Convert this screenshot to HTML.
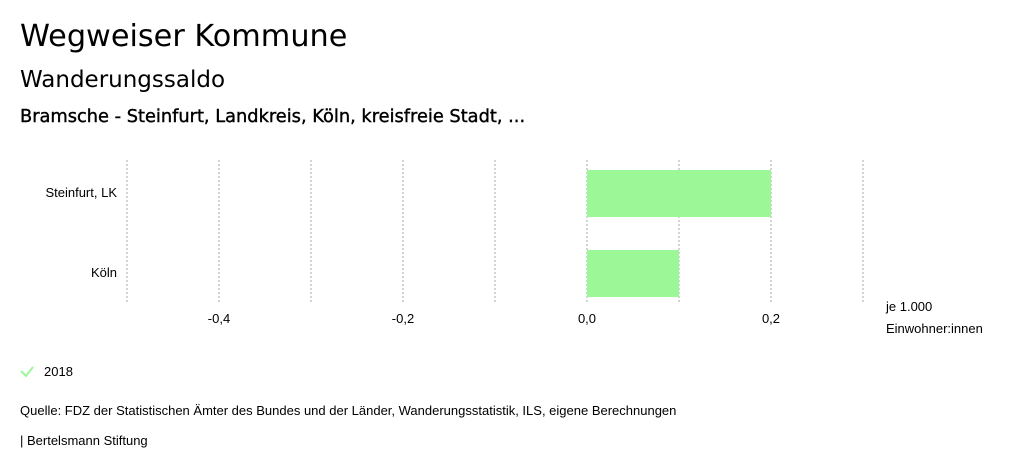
<!DOCTYPE html>
<html><head><meta charset="utf-8"><style>
body{margin:0;width:1024px;height:474px;background:#fff;font-family:"Liberation Sans",sans-serif;color:#000;position:relative;overflow:hidden}
.t{position:absolute;left:20px;white-space:nowrap}
.h{font-family:"DejaVu Sans","Liberation Sans",sans-serif}
</style></head><body>
<div class="t h" style="top:19px;font-size:30.3px">Wegweiser Kommune</div>
<div class="t h" style="top:67px;font-size:23px">Wanderungssaldo</div>
<div class="t h" style="top:106px;font-size:17.8px;-webkit-text-stroke:0.4px #000">Bramsche - Steinfurt, Landkreis, Köln, kreisfreie Stadt, ...</div>
<svg id="chart" width="1024" height="474" style="position:absolute;left:0;top:0"></svg>
<div class="t" style="top:403px;font-size:13px">Quelle: FDZ der Statistischen Ämter des Bundes und der Länder, Wanderungsstatistik, ILS, eigene Berechnungen</div>
<div class="t" style="top:433px;font-size:13px">| Bertelsmann Stiftung</div>
<script>
const categories=["Steinfurt, LK","Köln"];
const values2018=[0.2,0.1];
const ticks=[-0.5,-0.4,-0.3,-0.2,-0.1,0,0.1,0.2,0.3];
const tickLabels=["-0,4","-0,2","0,0","0,2"];
const tickLabelValues=[-0.4,-0.2,0,0.2];
const NS="http://www.w3.org/2000/svg";
const svg=document.getElementById('chart');
const x=v=>587+v*920;
const y=i=>170+i*80;
function mk(t,a){const e=document.createElementNS(NS,t);for(const k in a)e.setAttribute(k,a[k]);svg.appendChild(e);return e;}
ticks.forEach(v=>{const l=mk('line',{x1:x(v),x2:x(v),y1:160,y2:303,stroke:'#aaa','stroke-dasharray':'2,2'});

});
tickLabelValues.forEach((v,i)=>{const t=mk('text',{x:x(v),y:323,'text-anchor':'middle','font-size':13,'font-family':'Liberation Sans'});t.textContent=tickLabels[i];

});
categories.forEach((c,i)=>{const v=values2018[i];
const r=mk('rect',{x:Math.min(x(0),x(v)),y:y(i),width:Math.abs(x(v)-x(0)),height:47,fill:'#9cf797'});


const t=mk('text',{x:117,y:y(i)+27,'text-anchor':'end','font-size':13,'font-family':'Liberation Sans'});t.textContent=c;

});
const u1=mk('text',{x:886,y:311,'font-size':13,'font-family':'Liberation Sans'});u1.textContent='je 1.000';


const u2=mk('text',{x:886,y:333,'font-size':13,'font-family':'Liberation Sans'});u2.textContent='Einwohner:innen';


const ck=mk('path',{d:'M21 371 L26 376 L33 367',stroke:'#9cf797','stroke-width':2,fill:'none'});


const lt=mk('text',{x:44,y:376,'font-size':13,'font-family':'Liberation Sans'});lt.textContent='2018';


</script>
</body></html>
